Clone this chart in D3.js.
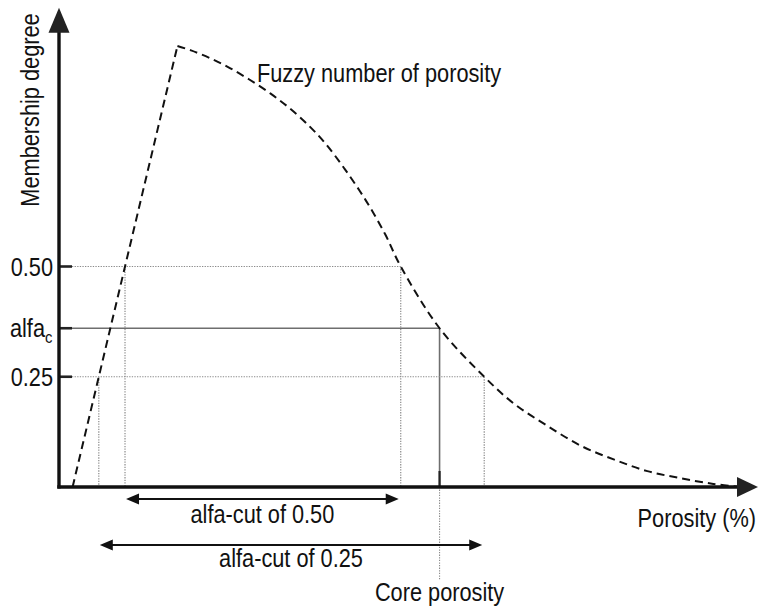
<!DOCTYPE html>
<html>
<head>
<meta charset="utf-8">
<script src="https://cdn.jsdelivr.net/npm/d3@7"></script>
<style>
  html, body { margin: 0; padding: 0; background: #fff; }
  svg { display: block; }
  text { font-family: "Liberation Sans", Arial, sans-serif; fill: #111; }
</style>
</head>
<body>
<svg id="chart" width="758" height="610"></svg>
<script>
// Fuzzy number of porosity: rising linear branch, then a smooth falling tail
const porosity   = [0.7, 6.1, 6.8, 7.8, 8.8, 9.8, 10.9, 11.9, 12.9, 13.7, 14.7, 15.8, 16.8, 17.6, 19.6, 21.9, 23.4, 25.1, 26.9, 28.6, 30.3, 32.0, 33.7, 35.1];
const membership = [0, 1.0, 0.99, 0.972, 0.95, 0.924, 0.892, 0.858, 0.818, 0.78, 0.722, 0.65, 0.573, 0.5, 0.36, 0.25, 0.19, 0.14, 0.093, 0.062, 0.036, 0.02, 0.007, 0];

// alpha levels marked on the membership axis
const cutLevels = [0.5, 0.36, 0.25];
const cutLabels = ["0.50", "alfa", "0.25"];
const cutSub    = ["", "c", ""];
const cutStyle  = ["dotted", "solid", "dotted"];

// double-arrow intervals (alfa-cuts) drawn under the axis
const arrowLevels = [0.5, 0.25];
const arrowLabels = ["alfa-cut of 0.50", "alfa-cut of 0.25"];

const coreLevel = 0.36;
const axisMax = { x: 36, y: 1.087 };

const svg = d3.select("#chart");
const x = d3.scaleLinear().domain([0, axisMax.x]).range([59, 758]);
const y = d3.scaleLinear().domain([0, 1]).range([487, 46]);

const peakIdx = membership.indexOf(d3.max(membership));
const FS = 25, SX = 0.87;

// intersection of a horizontal level with the rising / falling branch
function crossing(level, side) {
  const idx = side === "left" ? d3.range(0, peakIdx) : d3.range(peakIdx, porosity.length - 1);
  for (const i of idx) {
    const m0 = membership[i], m1 = membership[i + 1];
    if ((m0 - level) * (m1 - level) <= 0 && m0 !== m1) {
      const t = (level - m0) / (m1 - m0);
      return porosity[i] + t * (porosity[i + 1] - porosity[i]);
    }
  }
  return null;
}

function label(g, px, py, str, anchor, rot, size) {
  return g.append("g")
    .attr("transform", `translate(${px},${py}) rotate(${rot || 0}) scale(${SX},1)`)
    .append("text")
    .attr("text-anchor", anchor)
    .attr("font-size", size || FS)
    .text(str);
}

// guide lines for each alpha level
cutLevels.forEach((lv, i) => {
  const hi = crossing(lv, "right");
  const lo = crossing(lv, "left");
  const dotted = cutStyle[i] === "dotted";
  const stroke = dotted ? "#8a8a8a" : "#6e6e6e";
  const dash = dotted ? "1.3,1.3" : null;
  svg.append("line")
    .attr("x1", x(0)).attr("x2", x(hi))
    .attr("y1", y(lv)).attr("y2", y(lv))
    .attr("stroke", stroke).attr("stroke-width", dotted ? 1.2 : 1.6)
    .attr("stroke-dasharray", dash);
  svg.append("line")
    .attr("x1", x(hi)).attr("x2", x(hi))
    .attr("y1", y(lv)).attr("y2", y(0))
    .attr("stroke", stroke).attr("stroke-width", dotted ? 1.2 : 1.6)
    .attr("stroke-dasharray", dash);
  if (dotted) {
    svg.append("line")
      .attr("x1", x(lo)).attr("x2", x(lo))
      .attr("y1", y(lv)).attr("y2", y(0))
      .attr("stroke", stroke).attr("stroke-width", 1.2)
      .attr("stroke-dasharray", dash);
  }
  // short tick on the membership axis
  svg.append("line")
    .attr("x1", x(0)).attr("x2", x(0) + 13)
    .attr("y1", y(lv)).attr("y2", y(lv))
    .attr("stroke", "#222").attr("stroke-width", 2.6);
  // level label
  label(svg, cutSub[i] ? 45 : 53, y(lv) + 9, cutLabels[i], "end");
  if (cutSub[i]) label(svg, 45, y(lv) + 15, cutSub[i], "start", 0, 17);
});

// core porosity marker: tick on the axis and a dotted leader downward
const core = crossing(coreLevel, "right");
svg.append("line")
  .attr("x1", x(core)).attr("x2", x(core))
  .attr("y1", y(0) - 16).attr("y2", y(0))
  .attr("stroke", "#222").attr("stroke-width", 2.2);
svg.append("line")
  .attr("x1", x(core)).attr("x2", x(core))
  .attr("y1", y(0)).attr("y2", 580)
  .attr("stroke", "#8a8a8a").attr("stroke-width", 1.1)
  .attr("stroke-dasharray", "1.3,1.3");
label(svg, x(core), 601, "Core porosity", "middle");

// fuzzy membership function: dashed curve
const pts = porosity.map((p, i) => [x(p), y(membership[i])]);
svg.append("path")
  .attr("d", d3.line()(pts.slice(0, peakIdx + 1)))
  .attr("fill", "none").attr("stroke", "#111").attr("stroke-width", 2)
  .attr("stroke-dasharray", "8,5");
svg.append("path")
  .attr("d", d3.line().curve(d3.curveCatmullRom.alpha(0.5))(pts.slice(peakIdx)))
  .attr("fill", "none").attr("stroke", "#111").attr("stroke-width", 2)
  .attr("stroke-dasharray", "8,5");

// axes with arrow heads
const ax0 = x(0), ay0 = y(0);
const yTip = y(axisMax.y), xTip = x(axisMax.x);
svg.append("line")
  .attr("x1", ax0).attr("x2", ax0).attr("y1", ay0 + 1.5).attr("y2", yTip + 20)
  .attr("stroke", "#111").attr("stroke-width", 3.4);
svg.append("path")
  .attr("d", `M${ax0},${yTip} L${ax0 - 10.5},${yTip + 25} L${ax0 + 10.5},${yTip + 25} Z`)
  .attr("fill", "#222");
svg.append("line")
  .attr("x1", ax0 - 1.7).attr("x2", xTip - 18).attr("y1", ay0).attr("y2", ay0)
  .attr("stroke", "#111").attr("stroke-width", 3.4);
svg.append("path")
  .attr("d", `M${xTip},${ay0} L${xTip - 21},${ay0 - 10} L${xTip - 21},${ay0 + 10} Z`)
  .attr("fill", "#222");

// alfa-cut intervals as double arrows
const arrowY = [499, 545];
const arrowTextY = [523, 567];
arrowLevels.forEach((lv, i) => {
  const lo = x(crossing(lv, "left")) + 1, hi = x(crossing(lv, "right")) - 2;
  const yy = arrowY[i];
  svg.append("line")
    .attr("x1", lo + 10).attr("x2", hi - 10).attr("y1", yy).attr("y2", yy)
    .attr("stroke", "#111").attr("stroke-width", 2);
  svg.append("path")
    .attr("d", `M${lo},${yy} L${lo + 13},${yy - 5.5} L${lo + 13},${yy + 5.5} Z M${hi},${yy} L${hi - 13},${yy - 5.5} L${hi - 13},${yy + 5.5} Z`)
    .attr("fill", "#111");
  label(svg, (lo + hi) / 2, arrowTextY[i], arrowLabels[i], "middle");
});

// titles
label(svg, 39, 110, "Membership degree", "middle", -90);
label(svg, 257, 82, "Fuzzy number of porosity", "start");
label(svg, 756, 527, "Porosity (%)", "end");
</script>
</body>
</html>
